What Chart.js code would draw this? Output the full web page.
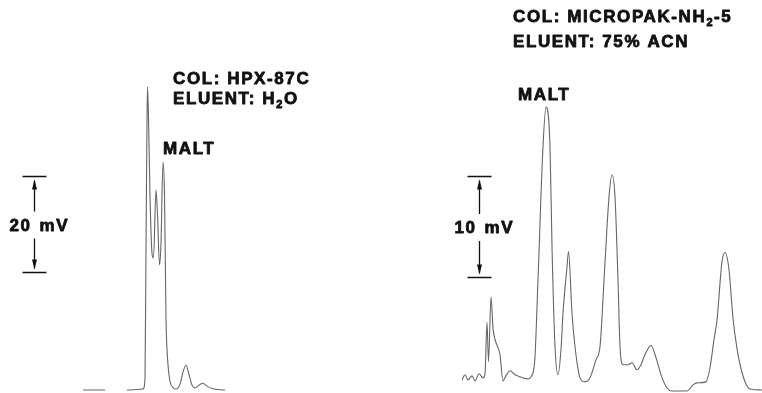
<!DOCTYPE html>
<html>
<head>
<meta charset="utf-8">
<script src="https://cdn.jsdelivr.net/npm/chart.js@4/dist/chart.umd.min.js"></script>
<style>
  body { margin: 0; background: #fff; }
  #wrap { position: relative; width: 762px; height: 393px; }
  canvas { position: absolute; top: 0; }
</style>
</head>
<body>
<div id="wrap">
  <canvas id="leftChart" width="381" height="393" style="left:0"></canvas>
  <canvas id="rightChart" width="381" height="393" style="left:381px"></canvas>
</div>
<script>
// HPX-87C run, water eluent (time in min, signal in mV)
const leftTime = [8.3, 10.5, 11.6, 12.7, 14.3, 14.5, 14.6, 14.7, 14.75, 14.85, 15.0, 15.2, 15.35, 15.6, 15.75, 15.95, 16.1, 16.3, 16.45, 16.6, 16.8, 17.0, 17.3, 17.6, 18.0, 18.3, 18.6, 18.9, 19.2, 19.5, 19.9, 20.3, 20.7, 21.2, 22.5];
const leftSignal = [-0.2, -0.2, null, -0.2, 0, 2, 28.7, 55, 62.3, 56, 40, 28, 27, 41, 36, 25.6, 30, 46.8, 40, 14.6, 5, 1.6, 0.3, 0, 1, 3.5, 4.9, 3, 0.8, 0.2, 0.8, 1.2, 0.6, 0.1, -0.2];

// MICROPAK-NH2-5 run, 75% ACN eluent
const rightTime = [8.1, 8.4, 8.7, 9.1, 9.4, 9.8, 10.2, 10.4, 10.6, 10.75, 11.0, 11.2, 11.4, 11.9, 12.2, 12.5, 12.9, 13.4, 13.9, 14.6, 15.2, 15.4, 15.7, 16.2, 16.5, 16.9, 17.1, 17.4, 17.7, 18.0, 18.2, 18.6, 18.75, 19.1, 19.4, 19.9, 20.4, 20.9, 21.5, 21.9, 22.4, 22.8, 23.1, 23.4, 23.7, 23.9, 24.2, 24.7, 25.1, 25.6, 26.0, 26.4, 27.0, 27.5, 28.0, 28.6, 29.1, 30.6, 31.2, 31.6, 32.5, 32.9, 33.3, 33.6, 34.1, 34.4, 34.8, 35.2, 35.6, 36.0, 36.5, 36.9, 38.1];
const rightSignal = [0.9, 1.4, 0.9, 1.3, 0.8, 1.5, 1.1, 1.5, 6.6, 2.7, 9.1, 6.0, 4.9, 3.4, 0.8, 1.3, 1.8, 1.4, 1.2, 1.0, 1.6, 3.2, 10.8, 24.0, 27.9, 24.0, 14.1, 4.2, 1.4, 3.9, 7.5, 12.1, 13.6, 7.5, 4.2, 1.1, 0.7, 1.1, 2.9, 4.2, 12.5, 19.0, 21.2, 19.0, 10.8, 4.2, 2.4, 2.4, 2.6, 1.9, 2.4, 3.4, 4.3, 3.1, 1.4, 0.1, -0.2, -0.2, 0.4, 0.6, 0.7, 2.1, 4.9, 6.8, 12.6, 13.5, 11.8, 7.0, 4.0, 2.0, 0.5, 0, -0.1];

// labels: [text, subscript?] parts
const leftLabels = [
  { parts: [["COL: HPX-87C"]], x: 173, y: 84 },
  { parts: [["ELUENT: H"], ["2", true], ["O"]], x: 173, y: 104 },
  { parts: [["MALT"]], x: 163, y: 154 }
];
const rightLabels = [
  { parts: [["COL: MICROPAK-NH"], ["2", true], ["-5"]], x: 132, y: 22 },
  { parts: [["ELUENT: 75% ACN"]], x: 132, y: 47 },
  { parts: [["MALT"]], x: 137, y: 100 }
];
// scale bars: position in min, span in mV
const leftBar = { t: 3.4, from: 24.2, to: 44, left: "20", right: "mV" };
const rightBar = { t: 9.8, from: 11.1, to: 21.1, left: "10", right: "mV" };

const FONT = "bold 17px 'Liberation Sans'";
const SUB_FONT = "bold 11px 'Liberation Sans'";

function boldText(ctx, s, x, y) {
  ctx.fillText(s, x, y);
  ctx.strokeText(s, x, y);
}

function drawRich(ctx, parts, x, y) {
  parts.forEach(p => {
    ctx.font = p[1] ? SUB_FONT : FONT;
    boldText(ctx, p[0], x, p[1] ? y + 4 : y);
    x += ctx.measureText(p[0]).width;
  });
}

const sketchPlugin = {
  id: "sketch",
  afterDraw(chart, args, opts) {
    const ctx = chart.ctx;
    const xs = chart.scales.x, ys = chart.scales.y;
    ctx.save();
    ctx.fillStyle = "#111";
    ctx.strokeStyle = "#111";
    ctx.letterSpacing = "1.6px";
    ctx.textBaseline = "alphabetic";
    ctx.lineWidth = 0.8;
    ctx.lineJoin = "round";
    opts.labels.forEach(l => drawRich(ctx, l.parts, l.x, l.y));

    // scale bar
    const b = opts.bar;
    const cx = Math.round(xs.getPixelForValue(b.t)) + 0.5;
    const top = Math.round(ys.getPixelForValue(b.to)) + 0.5;
    const bot = Math.round(ys.getPixelForValue(b.from)) + 0.5;
    const mid = (top + bot) / 2;
    ctx.lineWidth = 1.3;
    ctx.beginPath();
    ctx.moveTo(cx - 12, top); ctx.lineTo(cx + 12, top);
    ctx.moveTo(cx - 12, bot); ctx.lineTo(cx + 12, bot);
    ctx.moveTo(cx, top + 4); ctx.lineTo(cx, mid - 13);
    ctx.moveTo(cx, mid + 14); ctx.lineTo(cx, bot - 4);
    ctx.stroke();
    ctx.beginPath();
    ctx.moveTo(cx, top + 3); ctx.lineTo(cx - 2.5, top + 13); ctx.lineTo(cx + 2.5, top + 13); ctx.closePath();
    ctx.moveTo(cx, bot - 3); ctx.lineTo(cx - 2.5, bot - 13); ctx.lineTo(cx + 2.5, bot - 13); ctx.closePath();
    ctx.fill();

    ctx.font = FONT;
    ctx.lineWidth = 0.8;
    ctx.textAlign = "right";
    boldText(ctx, b.left, cx - 3, mid + 6);
    ctx.textAlign = "left";
    boldText(ctx, b.right, cx + 5, mid + 6);
    ctx.restore();
  }
};

function makeChart(id, time, signal, yMin, yMax, labels, bar) {
  const points = time.map((t, i) => ({ x: t, y: signal[i] }));
  return new Chart(document.getElementById(id), {
    type: "line",
    data: {
      datasets: [{
        data: points,
        borderColor: "#666",
        borderWidth: 1.1,
        pointRadius: 0,
        cubicInterpolationMode: "monotone",
        spanGaps: false,
        fill: false
      }]
    },
    options: {
      responsive: false,
      animation: false,
      events: [],
      layout: { padding: 0 },
      plugins: {
        legend: { display: false },
        tooltip: { enabled: false },
        sketch: { labels: labels, bar: bar }
      },
      scales: {
        x: { type: "linear", min: 0, max: 38.1, display: false },
        y: { type: "linear", min: yMin, max: yMax, display: false }
      }
    },
    plugins: [sketchPlugin]
  });
}

makeChart("leftChart", leftTime, leftSignal, -0.82, 80.2, leftLabels, leftBar);
makeChart("rightChart", rightTime, rightSignal, -0.4, 38.5, rightLabels, rightBar);
</script>
</body>
</html>
